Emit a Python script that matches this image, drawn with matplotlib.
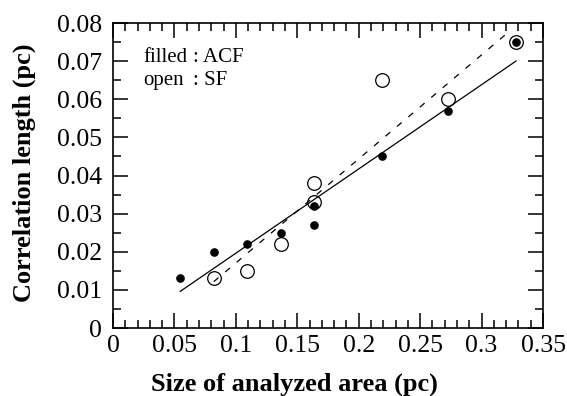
import numpy as np
import matplotlib
matplotlib.use("Agg")
import matplotlib.pyplot as plt
from matplotlib.ticker import MultipleLocator

# Analyzed area sizes (pc) and correlation lengths (pc)
acf_size = [0.0547, 0.082, 0.109, 0.137, 0.164, 0.164, 0.219, 0.273, 0.328]
acf_length = [0.013, 0.020, 0.022, 0.025, 0.032, 0.027, 0.045, 0.057, 0.075]

sf_size = [0.082, 0.109, 0.137, 0.164, 0.164, 0.219, 0.273, 0.328]
sf_length = [0.013, 0.015, 0.022, 0.038, 0.033, 0.065, 0.060, 0.075]

x_ticks = [0, 0.05, 0.1, 0.15, 0.2, 0.25, 0.3, 0.35]
x_tick_labels = ["0", "0.05", "0.1", "0.15", "0.2", "0.25", "0.3", "0.35"]
y_ticks = [0, 0.01, 0.02, 0.03, 0.04, 0.05, 0.06, 0.07, 0.08]
y_tick_labels = ["0", "0.01", "0.02", "0.03", "0.04", "0.05", "0.06", "0.07", "0.08"]

plt.rcParams["font.family"] = ["Liberation Serif", "DejaVu Serif"]

fig = plt.figure(figsize=(5.67, 3.96), dpi=100)
ax = fig.add_axes([0.1993, 0.1717, 0.7584, 0.7702])

# Linear least squares fits, drawn over each data range
acf_fit = np.polyfit(acf_size, acf_length, 1)
sf_fit = np.polyfit(sf_size, sf_length, 1)
xa = np.array([min(acf_size), max(acf_size)])
xs = np.array([min(sf_size), max(sf_size) - 0.006])
ax.plot(xa, np.polyval(acf_fit, xa), color="black", lw=0.9)
ax.plot(xs, np.polyval(sf_fit, xs), color="black", lw=0.9, ls=(0, (5, 7)))

ax.plot(acf_size, acf_length, "o", color="black", ms=5.2, zorder=3)
ax.plot(sf_size, sf_length, "o", mfc="none", mec="black", mew=0.9, ms=9.8, zorder=4)

ax.set_xlim(0, 0.35)
ax.set_ylim(0, 0.08)
ax.set_xticks(x_ticks)
ax.set_xticklabels(x_tick_labels)
ax.set_yticks(y_ticks)
ax.set_yticklabels(y_tick_labels)
ax.xaxis.set_minor_locator(MultipleLocator(0.01))
ax.yaxis.set_minor_locator(MultipleLocator(0.005))

ax.tick_params(which="both", direction="in", top=True, right=True, width=1.1)
ax.tick_params(which="major", length=11, labelsize=18.5)
ax.tick_params(which="minor", length=5.5)
ax.tick_params(axis="x", pad=5)
ax.tick_params(axis="y", pad=8)
for s in ax.spines.values():
    s.set_linewidth(1.2)

ax.set_xlabel("Size of analyzed area (pc)", fontsize=19, fontweight="bold")
ax.set_ylabel("Correlation length (pc)", fontsize=19, fontweight="bold")
ax.xaxis.set_label_coords(0.423, -0.145)
ax.yaxis.set_label_coords(-0.18, 0.51)

# Marker key
ax.text(0.07, 0.888, "filled", transform=ax.transAxes, fontsize=15, va="center")
ax.text(0.187, 0.888, ": ACF", transform=ax.transAxes, fontsize=15, va="center")
ax.text(0.07, 0.813, "open", transform=ax.transAxes, fontsize=15, va="center")
ax.text(0.187, 0.813, ": SF", transform=ax.transAxes, fontsize=15, va="center")

fig.savefig("out.png", dpi=100)
